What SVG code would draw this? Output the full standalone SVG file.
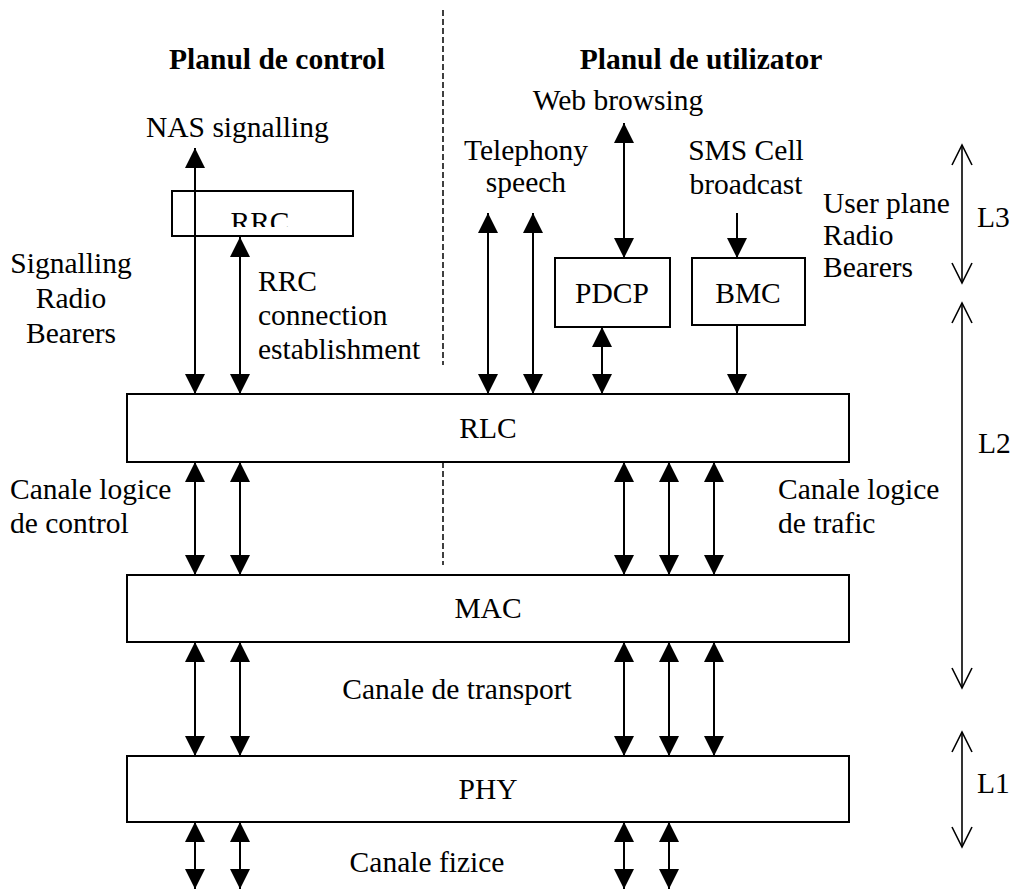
<svg xmlns="http://www.w3.org/2000/svg" width="1013" height="891" viewBox="0 0 1013 891">
<style>
text{font-family:"Liberation Serif","Times New Roman",serif;font-size:29.5px;fill:#000}
.b{font-weight:bold}
.m{text-anchor:middle}
.box{fill:#fff;stroke:#000;stroke-width:2}
.obox{fill:none;stroke:#000;stroke-width:2}
.ar{stroke:#000;stroke-width:2;fill:none}
.ar2{stroke:#000;stroke-width:2;fill:none;marker-start:url(#ah);marker-end:url(#ah)}
.ar1{stroke:#000;stroke-width:2;fill:none;marker-end:url(#ah)}
.lv{stroke:#000;stroke-width:1.6;fill:none;marker-start:url(#ov);marker-end:url(#ov)}
.dash{stroke:#000;stroke-width:1.5;stroke-dasharray:6 3;fill:none}
</style>
<defs>
<marker id="ah" markerUnits="userSpaceOnUse" markerWidth="20" markerHeight="20" viewBox="0 0 19 19" refX="19" refY="9.5" orient="auto-start-reverse">
<path d="M0,0 L19,9.5 L0,19 z" fill="#000"/>
</marker>
<marker id="ov" markerUnits="userSpaceOnUse" markerWidth="24" markerHeight="24" viewBox="-2 -2 24 24" refX="20" refY="10" orient="auto-start-reverse">
<path d="M0,0 L20,10 L0,20" fill="none" stroke="#000" stroke-width="1.6"/>
</marker>
<clipPath id="rrcclip"><rect x="172" y="191" width="181" height="36"/></clipPath>
</defs>
<rect width="1013" height="891" fill="#fff"/>

<g id="divider">
<line class="dash" x1="443" y1="10" x2="443" y2="365"/>
<line class="dash" x1="443" y1="462" x2="443" y2="565"/>
</g>

<g id="headers">
<text class="b m" x="277" y="69">Planul de control</text>
<text class="b m" x="701" y="69">Planul de utilizator</text>
</g>

<g id="node-rlc"><rect class="box" x="127" y="394" width="722" height="68"/><text class="m" x="488" y="438">RLC</text></g>
<g id="node-mac"><rect class="box" x="127" y="575" width="722" height="67"/><text class="m" x="488" y="618">MAC</text></g>
<g id="node-phy"><rect class="box" x="127" y="756" width="722" height="66"/><text class="m" x="488" y="799">PHY</text></g>
<g id="node-rrc"><rect class="obox" x="172" y="191" width="181" height="45"/><text class="m" x="260" y="232" clip-path="url(#rrcclip)">RRC</text></g>
<g id="node-pdcp"><rect class="box" x="555" y="258" width="115" height="69"/><text class="m" x="612" y="303">PDCP</text></g>
<g id="node-bmc"><rect class="box" x="692" y="258" width="113" height="67"/><text class="m" x="748" y="303">BMC</text></g>

<g id="connectors">
<!-- control plane top -->
<line class="ar2" x1="195" y1="148" x2="195" y2="394"/>
<line class="ar2" x1="240" y1="237" x2="240" y2="394"/>
<!-- user plane top -->
<line class="ar2" x1="488" y1="213" x2="488" y2="394"/>
<line class="ar2" x1="533" y1="213" x2="533" y2="394"/>
<line class="ar2" x1="624" y1="123" x2="624" y2="258"/>
<line class="ar2" x1="602" y1="327" x2="602" y2="394"/>
<line class="ar1" x1="737" y1="213" x2="737" y2="258"/>
<line class="ar1" x1="737" y1="325" x2="737" y2="394"/>
<!-- RLC - MAC -->
<line class="ar2" x1="195" y1="462" x2="195" y2="575"/>
<line class="ar2" x1="240" y1="462" x2="240" y2="575"/>
<line class="ar2" x1="624" y1="462" x2="624" y2="575"/>
<line class="ar2" x1="669" y1="462" x2="669" y2="575"/>
<line class="ar2" x1="714" y1="462" x2="714" y2="575"/>
<!-- MAC - PHY -->
<line class="ar2" x1="195" y1="642" x2="195" y2="756"/>
<line class="ar2" x1="240" y1="642" x2="240" y2="756"/>
<line class="ar2" x1="624" y1="642" x2="624" y2="756"/>
<line class="ar2" x1="669" y1="642" x2="669" y2="756"/>
<line class="ar2" x1="714" y1="642" x2="714" y2="756"/>
<!-- PHY bottom -->
<line class="ar2" x1="195" y1="822" x2="195" y2="889"/>
<line class="ar2" x1="240" y1="822" x2="240" y2="889"/>
<line class="ar2" x1="624" y1="822" x2="624" y2="889"/>
<line class="ar2" x1="669" y1="822" x2="669" y2="889"/>
<!-- layer spans -->
<line class="lv" x1="962" y1="145" x2="962" y2="283"/>
<line class="lv" x1="962" y1="303" x2="962" y2="688"/>
<line class="lv" x1="962" y1="732" x2="962" y2="847"/>
</g>

<g id="labels">
<text x="146" y="137">NAS signalling</text>
<text class="m" x="618" y="110">Web browsing</text>
<text class="m" x="526" y="160">Telephony</text>
<text class="m" x="526" y="192">speech</text>
<text class="m" x="746" y="160">SMS Cell</text>
<text class="m" x="746" y="194">broadcast</text>
<text x="823" y="213">User plane</text>
<text x="823" y="245">Radio</text>
<text x="823" y="277">Bearers</text>
<text x="977" y="227">L3</text>
<text x="978" y="453">L2</text>
<text x="977" y="793">L1</text>
<text class="m" x="71" y="273">Signalling</text>
<text class="m" x="71" y="308">Radio</text>
<text class="m" x="71" y="343">Bearers</text>
<text x="258" y="291">RRC</text>
<text x="258" y="325">connection</text>
<text x="258" y="359">establishment</text>
<text x="10" y="499">Canale logice</text>
<text x="10" y="533">de control</text>
<text x="778" y="499">Canale logice</text>
<text x="778" y="533">de trafic</text>
<text class="m" x="457" y="699">Canale de transport</text>
<text class="m" x="427" y="872">Canale fizice</text>
</g>
</svg>
